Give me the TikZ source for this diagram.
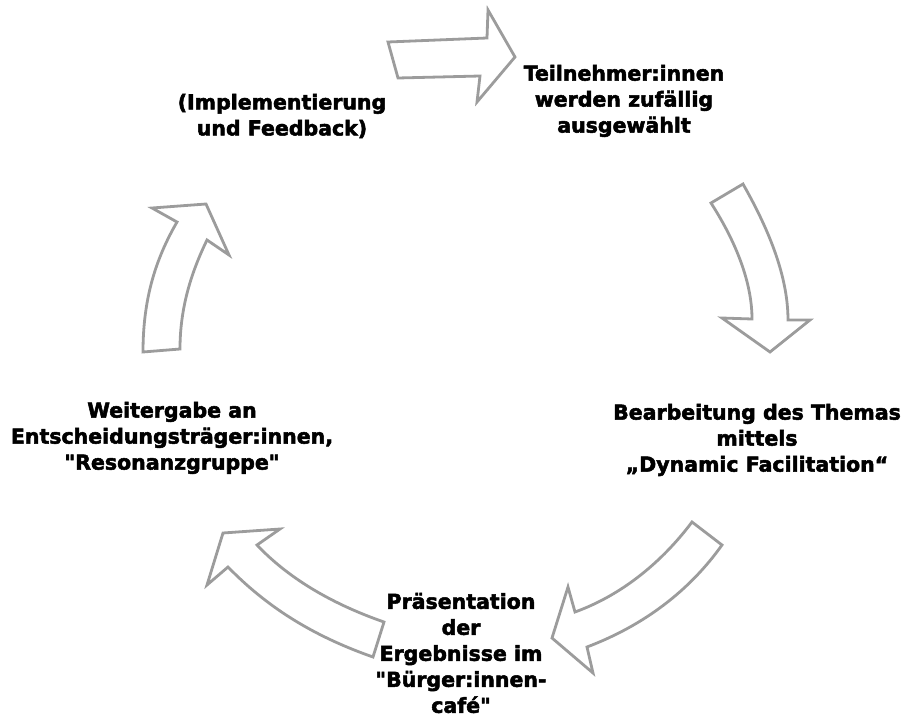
\documentclass[tikz,border=0pt]{standalone}
\usepackage{fontspec}
\setmainfont{DejaVu Sans}
\newfontfamily\heavyfont[FakeBold=2.5]{DejaVu Sans Bold}
\begin{document}
\begin{tikzpicture}[x=1pt, y=-1pt,
		main/.style = {align=center, font=\heavyfont\fontsize{20.5}{26}\selectfont, inner sep=0pt},
		blockarrow/.style = {draw=gray!78, line width=2.8pt, fill=white, line join=miter}]
		\useasboundingbox (0,0) rectangle (906,717);
		\node[main] (teil) at (624,101) {Teilnehmer:innen\\werden zufällig\\ausgewählt};
		\node[main] (bearb) at (757,440) {Bearbeitung des Themas\\mittels\\„Dynamic Facilitation“};
		\node[main] (praes) at (461,653) {Präsentation\\der\\Ergebnisse im\\\textquotedbl Bürger:innen-\\café\textquotedbl};
		\node[main] (weiter) at (172,438) {Weitergabe an\\Entscheidungsträger:innen,\\\textquotedbl Resonanzgruppe\textquotedbl};
		\node[main] (impl) at (282,116) {(Implementierung\\und Feedback)};
		\draw[blockarrow] (388,42) -- (487,38) -- (488,10) -- (515,57) -- (477,102) -- (480,76) -- (398,78) -- cycle;
		\draw[blockarrow] (743,184) .. controls (772,235) and (788,280) .. (788,320) -- (810,320) -- (770,352) -- (722,318) -- (752,319) .. controls (752,285) and (738,245) .. (711,203) -- cycle;
		\draw[blockarrow] (722,545) .. controls (690,590) and (645,625) .. (587,647) -- (593,673) -- (552,638) -- (568,587) -- (575,612) .. controls (622,595) and (662,562) .. (692,522) -- cycle;
		\draw[blockarrow] (373,657) .. controls (310,635) and (265,605) .. (228,567) -- (207,585) -- (223,533) -- (280,529) -- (257,545) .. controls (290,580) and (335,605) .. (384,622) -- cycle;
		\draw[blockarrow] (143,352) .. controls (143,300) and (155,260) .. (177,222) -- (152,208) -- (206,204) -- (229,255) -- (207,240) .. controls (190,275) and (180,310) .. (180,349) -- cycle;
	\end{tikzpicture}
\end{document}
